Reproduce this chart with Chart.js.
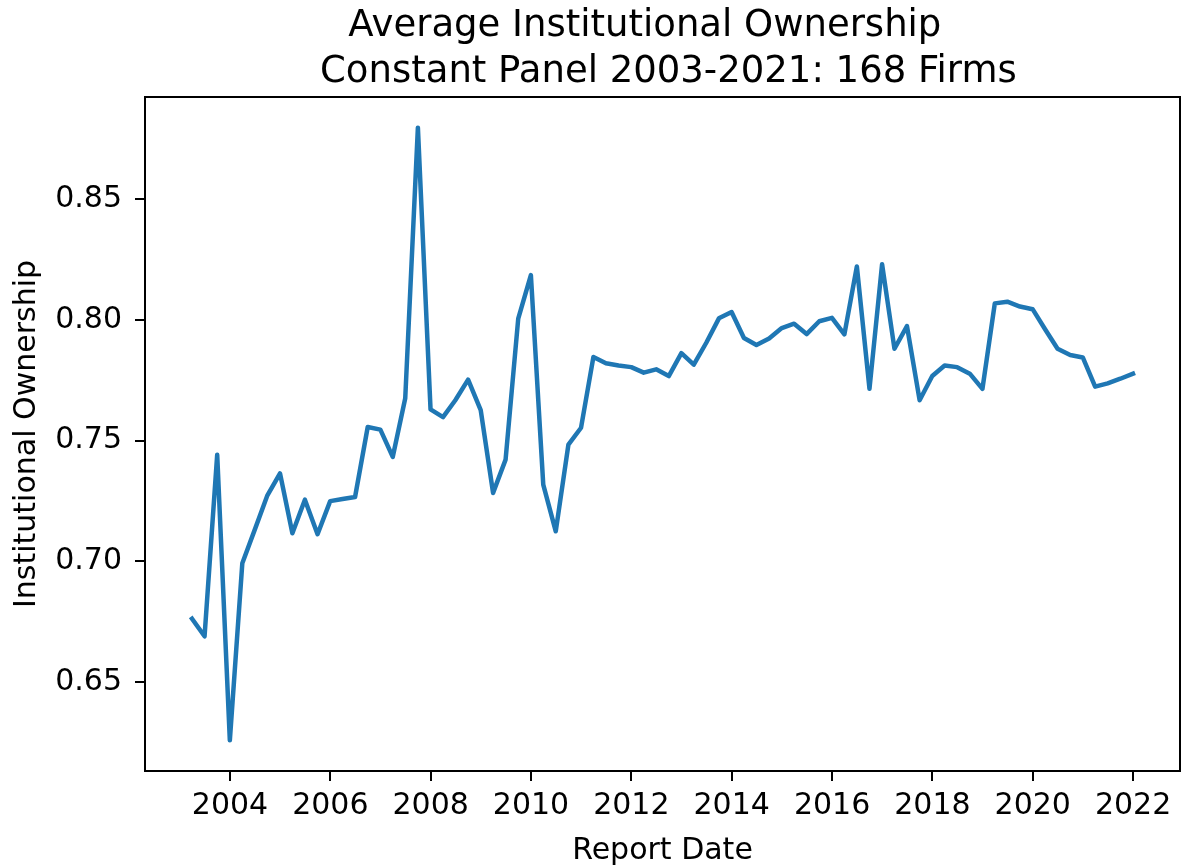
<!DOCTYPE html>
<html>
<head>
<meta charset="utf-8">
<title>Average Institutional Ownership</title>
<script src="https://cdn.jsdelivr.net/npm/chart.js@4.4.1/dist/chart.umd.min.js"></script>
<style>
  html, body { margin: 0; padding: 0; background: #fff; }
  #wrap { width: 1181px; height: 868px; }
</style>
</head>
<body>
<div id="wrap"><canvas id="ownershipChart" width="1181" height="868"></canvas></div>
<script>
// --- data: quarterly report dates and average ownership ---
const reportDates = [
  '2003-03-31', '2003-06-30', '2003-09-30', '2003-12-31',
  '2004-03-31', '2004-06-30', '2004-09-30', '2004-12-31',
  '2005-03-31', '2005-06-30', '2005-09-30', '2005-12-31',
  '2006-03-31', '2006-06-30', '2006-09-30', '2006-12-31',
  '2007-03-31', '2007-06-30', '2007-09-30', '2007-12-31',
  '2008-03-31', '2008-06-30', '2008-09-30', '2008-12-31',
  '2009-03-31', '2009-06-30', '2009-09-30', '2009-12-31',
  '2010-03-31', '2010-06-30', '2010-09-30', '2010-12-31',
  '2011-03-31', '2011-06-30', '2011-09-30', '2011-12-31',
  '2012-03-31', '2012-06-30', '2012-09-30', '2012-12-31',
  '2013-03-31', '2013-06-30', '2013-09-30', '2013-12-31',
  '2014-03-31', '2014-06-30', '2014-09-30', '2014-12-31',
  '2015-03-31', '2015-06-30', '2015-09-30', '2015-12-31',
  '2016-03-31', '2016-06-30', '2016-09-30', '2016-12-31',
  '2017-03-31', '2017-06-30', '2017-09-30', '2017-12-31',
  '2018-03-31', '2018-06-30', '2018-09-30', '2018-12-31',
  '2019-03-31', '2019-06-30', '2019-09-30', '2019-12-31',
  '2020-03-31', '2020-06-30', '2020-09-30', '2020-12-31',
  '2021-03-31', '2021-06-30', '2021-09-30', '2021-12-31'
];
const ownership = [
  0.6762, 0.6689, 0.7441, 0.6258,
  0.6992, 0.7131, 0.7273, 0.7364,
  0.7116, 0.7255, 0.7112, 0.7249,
  0.7258, 0.7266, 0.7556, 0.7545,
  0.7432, 0.7675, 0.8796, 0.7629,
  0.7597, 0.7668, 0.7752, 0.7626,
  0.7283, 0.7421, 0.8005, 0.8185,
  0.7317, 0.7124, 0.7483, 0.7553,
  0.7846, 0.7820, 0.7811, 0.7804,
  0.7781, 0.7795, 0.7767, 0.7862,
  0.7814, 0.7905, 0.8006, 0.8032,
  0.7925, 0.7896, 0.7923, 0.7966,
  0.7984, 0.7941, 0.7994, 0.8008,
  0.7940, 0.8221, 0.7714, 0.8230,
  0.7880, 0.7974, 0.7667, 0.7767,
  0.7811, 0.7804, 0.7777, 0.7714,
  0.8068, 0.8075, 0.8055, 0.8044,
  0.7961, 0.7880, 0.7854, 0.7844,
  0.7723, 0.7737, 0.7756, 0.7777
];
const xTickYears = [2004, 2006, 2008, 2010, 2012, 2014, 2016, 2018, 2020, 2022];
const yTickValues = [0.65, 0.70, 0.75, 0.80, 0.85];

const titleLines = ['Average Institutional Ownership   ', ' Constant Panel 2003-2021: 168 Firms'];
const xTitle = 'Report Date';
const yTitle = 'Institutional Ownership';

// --- helpers ---
const FONT = "'DejaVu Sans', 'Liberation Sans', sans-serif";
const toYear = (s) => {
  const d = Date.parse(s + 'T00:00:00Z');
  const y = Number(s.slice(0, 4));
  const start = Date.UTC(y, 0, 1), end = Date.UTC(y + 1, 0, 1);
  return y + (d - start) / (end - start);
};
// matplotlib-style 5% margins
const padRange = (arr) => {
  const lo = Math.min(...arr), hi = Math.max(...arr), m = (hi - lo) * 0.05;
  return [lo - m, hi + m];
};

const points = reportDates.map((d, i) => ({ x: toYear(d), y: ownership[i] }));
const [xMin, xMax] = padRange(points.map(p => p.x));
const [yMin, yMax] = padRange(ownership);

// frame + titles drawn like matplotlib
const framePlugin = {
  id: 'frame',
  afterDraw(chart) {
    const { ctx, chartArea: a } = chart;
    const cx = (a.left + a.right) / 2, cy = (a.top + a.bottom) / 2;
    ctx.save();
    ctx.strokeStyle = '#000';
    ctx.lineWidth = 2;
    ctx.strokeRect(a.left, a.top, a.right - a.left, a.bottom - a.top);

    ctx.fillStyle = '#000';
    ctx.textAlign = 'center';
    ctx.textBaseline = 'alphabetic';
    ctx.font = '37px ' + FONT;
    ctx.fillText(titleLines[0], cx, 36);
    ctx.fillText(titleLines[1], cx, 82);

    ctx.font = '30px ' + FONT;
    ctx.fillText(xTitle, cx, 859);

    ctx.translate(35, cy);
    ctx.rotate(-Math.PI / 2);
    ctx.fillText(yTitle, 0, 0);
    ctx.restore();
  }
};

const tickFont = { family: FONT, size: 30 };
const axisGrid = { display: true, drawOnChartArea: false, drawTicks: true, tickLength: 10, color: '#000', lineWidth: 2 };

new Chart(document.getElementById('ownershipChart').getContext('2d'), {
  type: 'line',
  data: {
    datasets: [{
      data: points,
      borderColor: '#1f77b4',
      borderWidth: 4.5,
      borderJoinStyle: 'round',
      borderCapStyle: 'square',
      pointRadius: 0,
      tension: 0,
      fill: false
    }]
  },
  options: {
    responsive: false,
    animation: false,
    layout: { padding: { top: 97, right: 1, bottom: 0, left: 0 } },
    plugins: { legend: { display: false }, title: { display: false }, tooltip: { enabled: false } },
    scales: {
      x: {
        type: 'linear',
        min: xMin,
        max: xMax,
        grid: axisGrid,
        border: { display: true, color: '#000', width: 2 },
        ticks: { color: '#000', font: tickFont, padding: 7, maxRotation: 0, callback: (v) => String(Math.round(v)) },
        afterBuildTicks: (s) => { s.ticks = xTickYears.map(v => ({ value: v })); },
        afterFit: (s) => { s.height = 97; s.paddingLeft = 0; s.paddingRight = 0; }
      },
      y: {
        min: yMin,
        max: yMax,
        grid: axisGrid,
        border: { display: true, color: '#000', width: 2 },
        ticks: { color: '#000', font: tickFont, padding: 13, callback: (v) => v.toFixed(2) },
        afterBuildTicks: (s) => { s.ticks = yTickValues.map(v => ({ value: v })); },
        afterFit: (s) => { s.width = 145; s.paddingTop = 0; s.paddingBottom = 0; }
      }
    }
  },
  plugins: [framePlugin]
});
</script>
</body>
</html>
